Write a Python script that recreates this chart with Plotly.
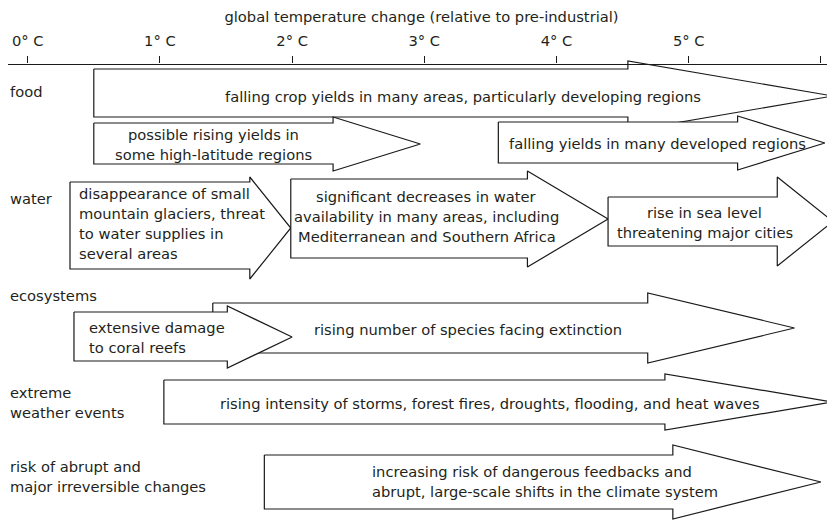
import plotly.graph_objects as go

# temperature scale (degrees C above pre-industrial)
tick_vals = [0, 1, 2, 3, 4, 5, 6]
tick_text = ["0° C", "1° C", "2° C", "3° C", "4° C", "5° C", ""]
axis_title = "global temperature change (relative to pre-industrial)"

# impact categories shown on the left
categories = ["food", "water", "ecosystems", "extreme<br>weather events",
              "risk of abrupt and<br>major irreversible changes"]

# one entry per arrow: its text and where it starts / where the head begins / where it points
arrow_text = [
    "falling crop yields in many areas, particularly developing regions",
    "possible rising yields in<br>some high-latitude regions",
    "falling yields in many developed regions",
    "disappearance of small<br>mountain glaciers, threat<br>to water supplies in<br>several areas",
    "significant decreases in water<br>availability in many areas, including<br>Mediterranean and Southern Africa",
    "rise in sea level<br>threatening major cities",
    "rising number of species facing extinction",
    "extensive damage<br>to coral reefs",
    "rising intensity of storms, forest fires, droughts, flooding, and heat waves",
    "increasing risk of dangerous feedbacks and<br>abrupt, large-scale shifts in the climate system",
]
arrow_start = [0.50, 0.50, 3.56, 0.32, 1.99, 4.39, 1.40, 0.35, 1.03, 1.79]
arrow_neck = [4.54, 2.31, 5.37, 1.68, 3.78, 5.67, 4.69, 1.51, 4.82, 4.88]
arrow_tip = [6.09, 2.97, 6.03, 1.99, 4.39, 6.09, 5.80, 2.00, 6.09, 6.00]

# ---- layout only (vertical geometry in px from top of page, label placement) ----
PAGE_W, PAGE_H = 835, 522
OFF = 8                      # page body margin
W, H = PAGE_W - OFF, PAGE_H - OFF
X0_PX, PX_PER_C = 27.7, 132.2
AXIS_Y = 63.5
LINE_H = 20

# body top, body bottom, head top, head bottom
arrow_band = [
    (69, 117, 61, 131),
    (123, 164, 117, 171),
    (122, 163, 116, 170),
    (182, 269, 177, 279),
    (179, 258, 171, 267),
    (197, 246, 177, 266),
    (303, 353, 293, 363),
    (312, 361, 306, 368),
    (380, 424, 374, 430),
    (455, 509, 445, 519),
]
# text anchor: (x in degrees or None for arrow centre / "body" centre, xanchor, y px of block centre)
text_place = [
    (None, "center", 96),
    (None, "body", 144),
    (3.625, "left", 143),
    (0.37, "left", 223),
    (3.02, "center", 216),
    (5.12, "center", 222),
    (3.33, "center", 329),
    (0.45, "left", 337),
    (3.50, "center", 403),
    (2.59, "left", 481),
]
cat_y = [91, 198, 295, 402, 476]

FONT = "DejaVu Sans"
FS = 14.7
TXT = "#231f20"

fig = go.Figure()


def add_block(text, x, xref, xanchor, yc):
    lines = text.split("<br>")
    top = yc - (len(lines) - 1) * LINE_H / 2
    for k, ln in enumerate(lines):
        fig.add_annotation(
            x=x, y=top + k * LINE_H, xref=xref, yref="y", text=ln, showarrow=False,
            xanchor=xanchor, yanchor="middle",
            font=dict(family=FONT, size=FS, color=TXT),
        )


for i in range(len(arrow_text)):
    bt, bb, ht, hb = arrow_band[i]
    s, n, t = arrow_start[i], arrow_neck[i], arrow_tip[i]
    tip_y = (ht + hb) / 2
    xs = [s, n, n, t, n, n, s, s]
    ys = [bt, bt, ht, tip_y, hb, bb, bb, bt]
    fig.add_trace(go.Scatter(
        x=xs, y=ys, mode="lines", fill="toself", fillcolor="white",
        line=dict(color="#1a1a1a", width=1.2), hoverinfo="skip", showlegend=False,
    ))

    px, xanchor, ty = text_place[i]
    if xanchor == "body":
        # centred on the arrow's shaft
        px = (s + n) / 2
        xanchor = "center"
    elif px is None:
        # centred on the whole arrow
        px = (s + t) / 2
        xanchor = "center"
    add_block(arrow_text[i], px, "x", xanchor, ty)

for c, y in zip(categories, cat_y):
    add_block(c, 0, "paper", "left", y)

fig.update_layout(
    width=W, height=H,
    margin=dict(l=0, r=0, t=0, b=0),
    plot_bgcolor="white", paper_bgcolor="white",
    font=dict(family=FONT, size=FS, color=TXT),
    xaxis=dict(
        range=[(OFF - X0_PX) / PX_PER_C, (PAGE_W - X0_PX) / PX_PER_C],
        side="top", anchor="free", position=(PAGE_H - AXIS_Y) / H,
        tickvals=tick_vals, ticktext=tick_text,
        showline=True, linecolor="#1a1a1a", linewidth=1.2,
        ticks="outside", ticklen=7, tickcolor="#1a1a1a", tickwidth=1.2,
        ticklabelstandoff=5,
        showgrid=False, zeroline=False, fixedrange=True,
        title=dict(text=axis_title, standoff=13, font=dict(size=FS)),
    ),
    yaxis=dict(range=[PAGE_H, OFF], visible=False, fixedrange=True),
)

fig.write_html("out.html")
